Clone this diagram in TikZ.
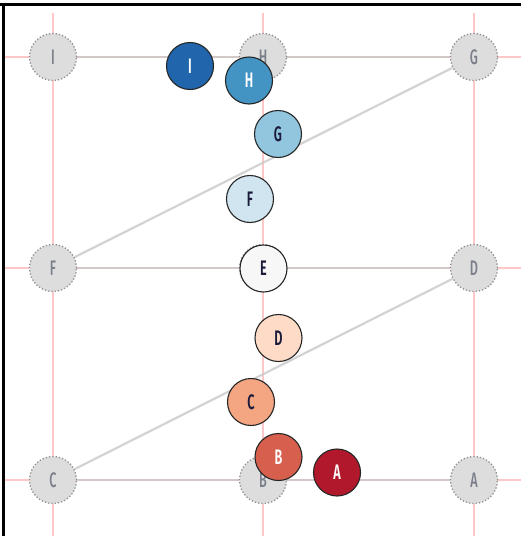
\documentclass[tikz,border=0pt]{standalone}
\usepackage{fontspec}
\newfontfamily\lblfont[FakeStretch=0.6]{Fira Sans Medium}
\newfontfamily\lblbold[FakeStretch=0.6]{Fira Sans SemiBold}
\pgfdeclarelayer{bg}
\pgfsetlayers{bg,main}
\definecolor{cI}{HTML}{2166AC}
\definecolor{cH}{HTML}{4393C3}
\definecolor{cG}{HTML}{92C5DE}
\definecolor{cF}{HTML}{D1E5F0}
\definecolor{cE}{HTML}{F7F7F7}
\definecolor{cD}{HTML}{FDDBC7}
\definecolor{cC}{HTML}{F4A582}
\definecolor{cB}{HTML}{D6604D}
\definecolor{cA}{HTML}{B2182B}
\definecolor{ghostfill}{HTML}{DDDDDD}
\definecolor{ghostline}{HTML}{909090}
\definecolor{ghosttext}{HTML}{7A7F8A}
\definecolor{gridpink}{HTML}{FFC8C8}
\definecolor{linkgray}{HTML}{C8C8C8}
\definecolor{darktext}{HTML}{1A1A3A}
\tikzset{
  ghost/.style={circle, minimum size=47pt, inner sep=0pt, fill=ghostfill,
    draw=ghostline, line width=1.3pt, dotted, text=ghosttext,
    font=\lblfont\fontsize{21}{21}\selectfont},
  dot/.style={circle, minimum size=47pt, inner sep=0pt, draw=black!85,
    line width=1.1pt, fill=#1, font=\lblbold\fontsize{21}{21}\selectfont},
  light/.style={text=darktext},
  dark/.style={text=white},
  gridline/.style={gridpink, line width=1.2pt},
  link/.style={linkgray, line width=2.2pt, opacity=0.8},
  frame/.style={black, line width=2.6pt}
}
\begin{document}
\begin{tikzpicture}[x=1pt, y=-1pt]
\useasboundingbox (0,0) rectangle (521,536);
% ghost positions
\node[ghost] (gI) at (53,57) {I};
\node[ghost] (gH) at (263,57) {H};
\node[ghost] (gG) at (474,57) {G};
\node[ghost] (gF) at (53,268) {F};
\node[ghost] (gE) at (263,268) {E};
\node[ghost] (gD) at (474,268) {D};
\node[ghost] (gC) at (53,480) {C};
\node[ghost] (gB) at (263,480) {B};
\node[ghost] (gA) at (474,480) {A};
% coloured points
\node[dot=cI, dark] (pI) at (190,66) {I};
\node[dot=cH, dark] (pH) at (249,80.5) {H};
\node[dot=cG, light] (pG) at (278,134) {G};
\node[dot=cF, light] (pF) at (250,199) {F};
\node[dot=cE, light] (pE) at (263.5,268.5) {E};
\node[dot=cD, light] (pD) at (278.5,338) {D};
\node[dot=cC, light] (pC) at (251,402) {C};
\node[dot=cB, dark] (pB) at (278.5,457) {B};
\node[dot=cA, dark] (pA) at (337,472.5) {A};
\begin{pgfonlayer}{bg}
  % grid
  \foreach \x in {53,263,474} \draw[gridline] (\x,13) -- (\x,536);
  \foreach \y in {57,268,480} \draw[gridline] (5,\y) -- (521,\y);
  % links between ghost positions
  \draw[link] (gI) -- (gH);
  \draw[link] (gH) -- (gG);
  \draw[link] (gG) -- (gF);
  \draw[link] (gF) -- (gE);
  \draw[link] (gE) -- (gD);
  \draw[link] (gD) -- (gC);
  \draw[link] (gC) -- (gB);
  \draw[link] (gB) -- (gA);
\end{pgfonlayer}
% frame (top and left)
\draw[frame] (0,4.5) -- (521,4.5);
\draw[frame] (3.5,3.2) -- (3.5,536);
\end{tikzpicture}
\end{document}
